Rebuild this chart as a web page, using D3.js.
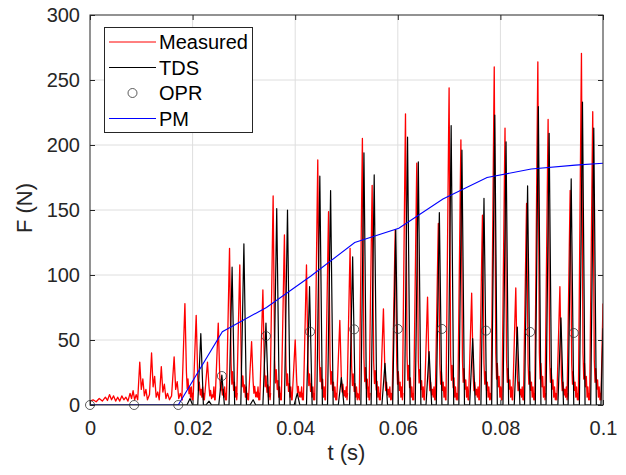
<!DOCTYPE html>
<html>
<head>
<meta charset="utf-8">
<script src="https://cdn.jsdelivr.net/npm/d3@7"></script>
<style>
body { margin: 0; background: #fff; }
text { font-family: "Liberation Sans", Arial, Helvetica, sans-serif; }
</style>
</head>
<body>
<svg id="chart"></svg>
<script>
// axis ticks
var xTicks = [0, 0.02, 0.04, 0.06, 0.08, 0.1];
var yTicks = [0, 50, 100, 150, 200, 250, 300];

// Measured: low-level start (t, F)
var measStart = [
    [0, 3], [0.0006, 4], [0.0012, 2.5], [0.0018, 5], [0.0024, 3], [0.003, 6], [0.0034, 3.5],
    [0.0038, 8], [0.0042, 4], [0.0046, 7], [0.005, 3], [0.0054, 6], [0.0058, 3], [0.0062, 7],
    [0.0066, 4], [0.007, 6], [0.0074, 3], [0.0078, 9], [0.0081, 5], [0.0084, 11], [0.0087, 4],
    [0.009, 8], [0.0093, 4], [0.0097, 33], [0.01, 12], [0.0103, 20], [0.0106, 7], [0.0109, 12],
    [0.0112, 4], [0.0116, 8], [0.012, 40], [0.0123, 14], [0.0126, 22], [0.0129, 6], [0.0132, 10],
    [0.0135, 4], [0.0139, 29.5], [0.0142, 10], [0.0145, 16], [0.0148, 5], [0.0151, 9], [0.0155, 4],
    [0.0159, 7], [0.0164, 37], [0.0167, 12], [0.017, 18], [0.0173, 5], [0.0176, 9], [0.018, 4]
];
// Measured: impact peaks, peak force and the ripple after each one
var measPeakT = [0.0185, 0.0207, 0.0229, 0.025, 0.0272, 0.0292, 0.0315, 0.0337, 0.0357, 0.0379,
    0.04, 0.0422, 0.0444, 0.0465, 0.0487, 0.0507, 0.0531, 0.055, 0.0572, 0.0595,
    0.0615, 0.0637, 0.0658, 0.0679, 0.07, 0.0723, 0.0744, 0.0765, 0.0788, 0.0809,
    0.083, 0.0851, 0.0873, 0.0893, 0.0916, 0.0936, 0.0958, 0.098];
var measPeakF = [78, 69, 33, 63, 120.5, 107.7, 48.7, 88.5, 160.8, 130.8,
    50, 107.7, 188.5, 148.7, 65, 120.5, 205, 169, 74, 134.6,
    224, 186, 83, 139.7, 244, 204, 86, 146, 260, 213,
    90, 155, 264, 219.7, 91, 165, 270.5, 225.6];
var measRipF = [25, 22, 14, 22, 32, 28, 18, 28, 34, 30,
    18, 30, 36, 32, 20, 30, 36, 33, 22, 32,
    38, 34, 22, 32, 38, 35, 22, 32, 40, 35,
    22, 32, 40, 35, 22, 32, 40, 35];
var measEnd = [[0.0996, 4], [0.1, 78]];

// TDS spikes
var tdsT = [0.0195, 0.0216, 0.0232, 0.0257, 0.0277, 0.03, 0.0318, 0.0343, 0.0364, 0.0385,
    0.0404, 0.0428, 0.0448, 0.0469, 0.049, 0.0512, 0.0534, 0.0554, 0.0575, 0.0596,
    0.0619, 0.064, 0.0661, 0.0681, 0.0704, 0.0725, 0.0746, 0.0768, 0.0789, 0.0811,
    0.0833, 0.0853, 0.0874, 0.0895, 0.0918, 0.0938, 0.096, 0.0982];
var tdsF = [5, 55, 3, 23, 106, 124, 4, 63, 151, 150,
    9, 91, 176, 165, 21, 114, 194, 177, 32, 135,
    206, 187, 41, 148, 215, 196, 51, 159, 223, 202.5,
    60, 168.5, 229.5, 209, 67, 174, 233, 213];
var tdsEnd = [[0.0996, 0], [0.1, 59]];

// OPR points
var oprT = [0, 0.0086, 0.0172, 0.0257, 0.0343, 0.0429, 0.0515, 0.06, 0.0686, 0.0772, 0.0858, 0.0943];
var oprF = [0, 0, 0, 22.3, 53, 56.4, 58.2, 58.5, 58.5, 57.2, 56.2, 55.4];

// PM curve
var pmT = [0, 0.0086, 0.0172, 0.0258, 0.0344, 0.043, 0.0516, 0.0602, 0.0688, 0.0774, 0.086, 0.0946, 0.1];
var pmF = [0, 0, 0, 56.4, 75, 99, 125, 136, 158.5, 175, 181.5, 184.5, 186];

var width = 626, height = 475;
var margin = {top: 15, left: 90, right: 23, bottom: 70};
var axisColor = "#262626";

var svg = d3.select("#chart")
    .attr("width", width)
    .attr("height", height);

var x = d3.scaleLinear()
    .domain([0, 0.1])
    .range([margin.left, width - margin.right]);
var y = d3.scaleLinear()
    .domain([0, 300])
    .range([height - margin.bottom, margin.top]);

svg.append("defs").append("clipPath").attr("id", "plot")
    .append("rect")
    .attr("x", margin.left).attr("y", margin.top)
    .attr("width", x(0.1) - x(0)).attr("height", y(0) - y(300));

// grid
svg.append("g").selectAll("line").data(xTicks.slice(1, -1)).enter().append("line")
    .attr("x1", function(d) { return x(d); }).attr("x2", function(d) { return x(d); })
    .attr("y1", y(0)).attr("y2", y(300))
    .attr("stroke", "#dedede").attr("stroke-width", 1);
svg.append("g").selectAll("line").data(yTicks.slice(1, -1)).enter().append("line")
    .attr("y1", function(d) { return y(d); }).attr("y2", function(d) { return y(d); })
    .attr("x1", x(0)).attr("x2", x(0.1))
    .attr("stroke", "#dedede").attr("stroke-width", 1);

var line = d3.line()
    .x(function(d) { return x(d[0]); })
    .y(function(d) { return y(d[1]); });

// build measured path from the peak lists
var measPts = measStart.slice();
measPeakT.forEach(function(t, i) {
    var f = measPeakF[i], r = measRipF[i];
    measPts.push([t - 0.0006, 4], [t - 0.0001, f * 0.85], [t, f], [t + 0.0003, r], [t + 0.00045, r * 0.5],
        [t + 0.0006, r * 0.8], [t + 0.0008, r * 0.35], [t + 0.00095, r * 0.55], [t + 0.0011, 6],
        [t + 0.00125, 14], [t + 0.0014, 4], [t + 0.0015, 9]);
});
measPts = measPts.concat(measEnd);

var tdsPts = [[0, 0]];
tdsT.forEach(function(t, i) {
    tdsPts.push([t - 0.0006, 0], [t, tdsF[i]], [t + 0.0005, 0]);
});
tdsPts = tdsPts.concat(tdsEnd);

var plot = svg.append("g").attr("clip-path", "url(#plot)");

plot.append("path")
    .attr("d", line(measPts))
    .attr("fill", "none").attr("stroke", "#ff0000").attr("stroke-width", 1.3)
    .attr("stroke-linejoin", "round");

plot.append("path")
    .attr("d", line(tdsPts))
    .attr("fill", "none").attr("stroke", "#000").attr("stroke-width", 1.2)
    .attr("stroke-linejoin", "round");

svg.append("g").selectAll("circle").data(oprT).enter().append("circle")
    .attr("cx", function(d) { return x(d); })
    .attr("cy", function(d, i) { return y(oprF[i]); })
    .attr("r", 4.5)
    .attr("fill", "none").attr("stroke", "#333").attr("stroke-width", 0.8);

plot.append("path")
    .attr("d", line(pmT.map(function(t, i) { return [t, pmF[i]]; })))
    .attr("fill", "none").attr("stroke", "#0000ff").attr("stroke-width", 1.1);

// axes, ticks inside
var fmtX = function(d) { return d === 0 ? "0" : String(+d.toFixed(2)); };

var xAxis = svg.append("g")
    .attr("transform", `translate(0,${y(0)})`)
    .call(d3.axisBottom(x).tickValues(xTicks).tickSize(-5).tickPadding(16).tickFormat(fmtX));
var xTop = svg.append("g")
    .attr("transform", `translate(0,${y(300)})`)
    .call(d3.axisTop(x).tickValues(xTicks).tickSize(-5).tickFormat(""));
var yAxis = svg.append("g")
    .attr("transform", `translate(${x(0)},0)`)
    .call(d3.axisLeft(y).tickValues(yTicks).tickSize(-5).tickPadding(10));
var yRight = svg.append("g")
    .attr("transform", `translate(${x(0.1)},0)`)
    .call(d3.axisRight(y).tickValues(yTicks).tickSize(-5).tickFormat(""));

[xAxis, xTop, yAxis, yRight].forEach(function(a) {
    a.select(".domain").remove();
    a.selectAll("line").attr("stroke", axisColor);
    a.selectAll("text").attr("fill", axisColor)
        .style("font-size", "20px")
        .style("font-family", '"Liberation Sans", Arial, sans-serif');
});

svg.append("rect")
    .attr("x", x(0)).attr("y", y(300))
    .attr("width", x(0.1) - x(0)).attr("height", y(0) - y(300))
    .attr("fill", "none").attr("stroke", axisColor).attr("stroke-width", 1);

svg.append("text")
    .attr("x", (x(0) + x(0.1)) / 2).attr("y", 460)
    .attr("text-anchor", "middle")
    .attr("fill", axisColor)
    .style("font-size", "22px")
    .text("t (s)");

svg.append("text")
    .attr("transform", "translate(32,208) rotate(-90)")
    .attr("text-anchor", "middle")
    .attr("fill", axisColor)
    .style("font-size", "22px")
    .text("F (N)");

// legend
var legend = svg.append("g");
legend.append("rect")
    .attr("x", 104.5).attr("y", 27.5).attr("width", 148).attr("height", 105)
    .attr("fill", "#fff").attr("stroke", axisColor).attr("stroke-width", 1);

var legendItems = ["Measured", "TDS", "OPR", "PM"];
var legendColors = ["#ff0000", "#000", "#333", "#0000ff"];
legendItems.forEach(function(name, i) {
    var ly = 42 + i * 25.5;
    if (name === "OPR") {
        legend.append("circle")
            .attr("cx", 132.5).attr("cy", ly).attr("r", 4.5)
            .attr("fill", "none").attr("stroke", legendColors[i]).attr("stroke-width", 0.8);
    } else {
        legend.append("line")
            .attr("x1", 109).attr("x2", 156).attr("y1", ly).attr("y2", ly)
            .attr("stroke", legendColors[i]).attr("stroke-width", 1);
    }
    legend.append("text")
        .attr("x", 159).attr("y", ly + 7)
        .attr("fill", "#000")
        .style("font-size", "20px")
        .text(name);
});
</script>
</body>
</html>
